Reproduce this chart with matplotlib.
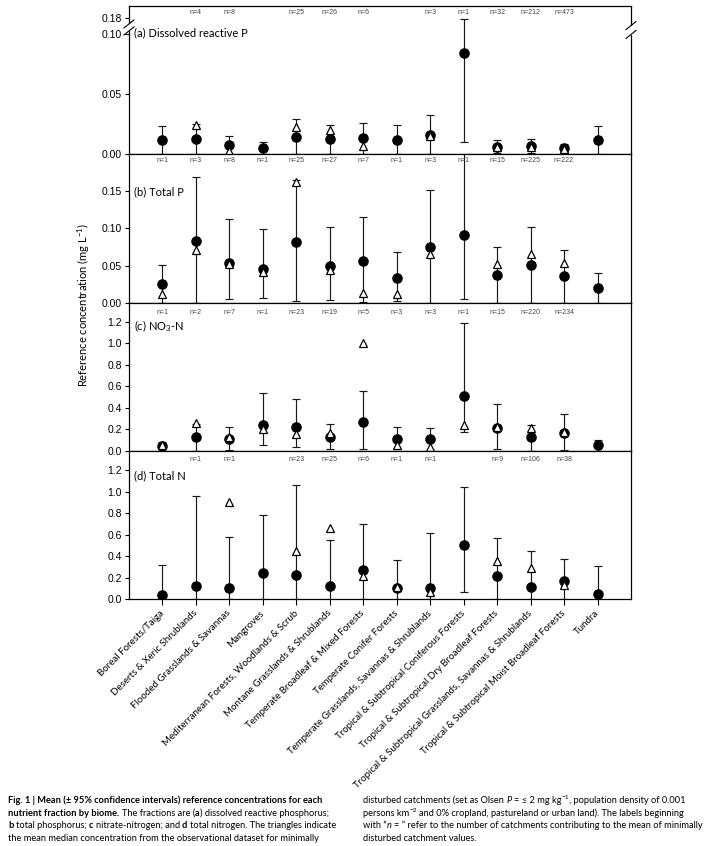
import re
import numpy as np
import matplotlib
matplotlib.use("Agg")
import matplotlib.pyplot as plt
from matplotlib.font_manager import FontProperties

plt.rcParams["mathtext.fontset"] = "custom"
plt.rcParams["mathtext.rm"] = "Lato"
plt.rcParams["mathtext.it"] = "Lato:italic"
plt.rcParams["mathtext.bf"] = "Lato:bold"

nan = np.nan

biomes = ["Boreal Forests/Taiga", "Deserts & Xeric Shrublands", "Flooded Grasslands & Savannas",
          "Mangroves", "Mediterranean Forests, Woodlands & Scrub", "Montane Grasslands & Shrublands",
          "Temperate Broadleaf & Mixed Forests", "Temperate Conifer Forests",
          "Temperate Grasslands, Savannas & Shrublands", "Tropical & Subtropical Coniferous Forests",
          "Tropical & Subtropical Dry Broadleaf Forests",
          "Tropical & Subtropical Grasslands, Savannas & Shrublands",
          "Tropical & Subtropical Moist Broadleaf Forests", "Tundra"]

# (a) Dissolved reactive P
drp_mean = [0.012, 0.013, 0.0075, 0.005, 0.0147, 0.0125, 0.0133, 0.012, 0.016, 0.0847, 0.0058, 0.007, 0.005, 0.012]
drp_low = [0, 0, 0, 0, 0, 0, 0, 0, 0, 0.0106, 0.001, 0.001, 0.002, 0]
drp_up = [0.0233, 0.0255, 0.0153, 0.0106, 0.0297, 0.0244, 0.026, 0.0244, 0.0325, 0.177, 0.012, 0.0128, 0.0089, 0.0236]
drp_tri = [nan, 0.0244, 0.003, nan, 0.023, 0.020, 0.0067, nan, 0.0155, nan, 0.006, 0.0065, 0.0048, nan]
drp_n = ["", "n=4", "n=8", "", "n=25", "n=26", "n=6", "", "n=3", "n=1", "n=32", "n=212", "n=473", ""]

# (b) Total P
tp_mean = [0.0252, 0.0838, 0.0536, 0.046, 0.0815, 0.0495, 0.0563, 0.0333, 0.0748, 0.0914, 0.037, 0.0505, 0.0356, 0.0194]
tp_low = [0, 0, 0.0045, 0.0068, 0.002, 0.003, 0.0014, 0.002, 0, 0.005, 0, 0, 0, 0]
tp_up = [0.0509, 0.169, 0.1126, 0.0995, 0.1658, 0.1023, 0.1153, 0.0689, 0.152, 0.215, 0.0752, 0.1018, 0.0716, 0.0396]
tp_tri = [0.0113, 0.0712, 0.0527, 0.041, 0.1626, 0.044, 0.0135, 0.0113, 0.0658, nan, 0.052, 0.0653, 0.054, nan]
tp_n = ["n=1", "n=3", "n=8", "n=1", "n=25", "n=27", "n=7", "n=1", "n=3", "n=1", "n=15", "n=225", "n=222", ""]

# (c) NO3-N
no3_mean = [0.047, 0.13, 0.115, 0.245, 0.226, 0.13, 0.273, 0.11, 0.108, 0.509, 0.217, 0.127, 0.171, 0.056]
no3_low = [0, 0, 0.01, 0.056, 0.034, 0.015, 0.015, 0.018, 0, 0.18, 0.022, 0, 0.01, 0]
no3_up = [0.084, 0.25, 0.226, 0.536, 0.48, 0.254, 0.561, 0.223, 0.214, 1.188, 0.44, 0.242, 0.341, 0.102]
no3_tri = [0.056, 0.264, 0.13, 0.208, 0.161, 0.17, 1.008, 0.056, 0.037, 0.239, 0.223, 0.214, 0.177, nan]
no3_n = ["n=1", "n=2", "n=7", "n=1", "n=23", "n=19", "n=5", "n=3", "n=3", "n=1", "n=15", "n=220", "n=234", ""]

# (d) Total N
tn_mean = [0.044, 0.128, 0.109, 0.243, 0.224, 0.121, 0.274, 0.106, 0.106, 0.508, 0.215, 0.118, 0.174, 0.053]
tn_low = [0, 0, 0, 0, 0, 0, 0, 0, 0, 0.069, 0, 0, 0, 0]
tn_up = [0.315, 0.96, 0.576, 0.788, 1.065, 0.555, 0.70, 0.368, 0.617, 1.044, 0.573, 0.445, 0.374, 0.31]
tn_tri = [nan, nan, 0.906, nan, 0.449, 0.66, 0.215, 0.118, 0.072, nan, 0.352, 0.293, 0.137, nan]
tn_n = ["", "n=1", "n=1", "", "n=23", "n=25", "n=6", "n=1", "n=1", "", "n=9", "n=106", "n=38", ""]

panels = [
    ("(a) Dissolved reactive P", drp_mean, drp_low, drp_up, drp_tri, drp_n,
     [0, 0.05, 0.10, 0.18], ["0.00", "0.05", "0.10", "0.18"], 0.242, 0.82, 0.955),
    ("(b) Total P", tp_mean, tp_low, tp_up, tp_tri, tp_n,
     [0, 0.05, 0.10, 0.15], ["0.00", "0.05", "0.10", "0.15"], 0.20, 0.75, 0.955),
    ("(c) NO$_3$-N", no3_mean, no3_low, no3_up, no3_tri, no3_n,
     [0, 0.2, 0.4, 0.6, 0.8, 1.0, 1.2], ["0.0", "0.2", "0.4", "0.6", "0.8", "1.0", "1.2"], 1.38, 0.84, 0.935),
    ("(d) Total N", tn_mean, tn_low, tn_up, tn_tri, tn_n,
     [0, 0.2, 0.4, 0.6, 0.8, 1.0, 1.2], ["0.0", "0.2", "0.4", "0.6", "0.8", "1.0", "1.2"], 1.38, 0.83, 0.94),
]

W, H, DPI = 706, 846, 100
fig = plt.figure(figsize=(W / DPI, H / DPI), dpi=DPI)

left_px, right_px = 129, 631
top_px, bottom_px = 6, 599.3
ph = (bottom_px - top_px) / 4
x = np.arange(1, len(biomes) + 1)

def fwd(v):
    v = np.asarray(v, dtype=float)
    return np.where(v <= 0.1, v, 0.1 + (v - 0.1) / 6.0)

def inv(t):
    t = np.asarray(t, dtype=float)
    return np.where(t <= 0.1, t, 0.1 + (t - 0.1) * 6.0)

axes = []
for i, (title, mean, low, up, tri, nlab, yt, ytl, ytop, ty, ny) in enumerate(panels):
    y0 = top_px + i * ph
    ax = fig.add_axes([left_px / W, 1 - (y0 + ph) / H, (right_px - left_px) / W, ph / H])
    axes.append(ax)
    if i == 0:
        ax.set_yscale("function", functions=(fwd, inv))
    mean = np.array(mean); low = np.array(low); up = np.array(up)
    ax.errorbar(x, mean, yerr=[mean - low, up - mean], fmt="none", ecolor="#1a1a1a",
                elinewidth=0.85, capsize=3, capthick=0.85, zorder=2)
    ax.plot(x, mean, "o", ms=6.6, color="black", zorder=3)
    ax.plot(x, tri, "^", ms=5.8, mfc="white", mec="black", mew=0.9, zorder=4)
    ax.set_xlim(0, len(biomes) + 1)
    ax.set_ylim(0, ytop)
    ax.set_yticks(yt)
    ax.set_yticklabels(ytl, family="Liberation Sans", fontsize=7.5)
    ax.tick_params(axis="y", direction="out", length=3, width=0.8, pad=2)
    for s in ax.spines.values():
        s.set_linewidth(0.9)
    ax.text(0.01, ty, title, transform=ax.transAxes, fontsize=8, family="Lato", va="center", ha="left")
    for xi, lab in zip(x, nlab):
        if lab:
            ax.text(xi, ny, lab, transform=ax.get_xaxis_transform(), fontsize=5, color="#444444",
                    family="Liberation Sans", ha="center", va="center")
    if i < 3:
        ax.set_xticks([])
    else:
        ax.set_xticks(x)
        ax.set_xticklabels(biomes, rotation=45, ha="right", va="center", rotation_mode="anchor",
                           family="Lato", fontsize=7)
        ax.tick_params(axis="x", direction="out", length=4, width=0.8, pad=5)

# broken-axis marks on panel (a)
ax = axes[0]
aw = right_px - left_px
for xs, ys in [(0.0, (0.879, 0.832)), (1.0, (0.868, 0.808))]:
    ax.plot([xs, xs], [ys[1] + 0.01, ys[0] - 0.01], color="white", lw=2.5, transform=ax.transAxes,
            clip_on=False, zorder=5)
    for yy in ys:
        ax.plot([xs - 5 / aw, xs + 5 / aw], [yy - 4 / ph, yy + 4 / ph], color="black", lw=0.8,
                transform=ax.transAxes, clip_on=False, zorder=6)

fig.text(84 / W, 1 - 305 / H, "Reference concentration (mg L$^{-1}$)", rotation=90, family="Lato",
         fontsize=8, ha="center", va="center")

# caption
renderer = fig.canvas.get_renderer()
styles = {"n": {}, "b": {"weight": "bold"}, "i": {"style": "italic"}, "s": {}}

def parse(line):
    parts = re.split(r"(\*\*.*?\*\*|__.*?__|\^\{.*?\})", line)
    out = []
    for p in parts:
        if not p:
            continue
        if p.startswith("**"):
            out.append((p[2:-2], "b"))
        elif p.startswith("__"):
            out.append((p[2:-2], "i"))
        elif p.startswith("^{"):
            out.append((p[2:-1], "s"))
        else:
            out.append((p, "n"))
    return out

def width(txt, fp):
    return renderer.get_text_width_height_descent(txt, fp, False)[0]

def walk(x_px, base_px, line, size, draw):
    cur = x_px
    for txt, st in parse(line):
        fs = size * 0.7 if st == "s" else size
        fp = FontProperties(family="Lato", size=fs, **styles[st])
        sp = width("| |", fp) - width("||", fp)
        lead = len(txt) - len(txt.lstrip(" "))
        trail = len(txt) - len(txt.rstrip(" "))
        core = txt.strip(" ")
        cur += lead * sp
        yb = base_px - (size * 0.42 * DPI / 72 if st == "s" else 0)
        if core:
            if draw:
                fig.text(cur / W, 1 - yb / H, core, fontproperties=fp, ha="left", va="baseline")
            cur += width(core, fp)
        cur += trail * sp
    return cur - x_px

left_lines = [
    "**Fig. 1 | Mean (± 95% confidence intervals) reference concentrations for each**",
    "**nutrient fraction by biome.** The fractions are (**a**) dissolved reactive phosphorus;",
    "**b** total phosphorus; **c** nitrate-nitrogen; and **d** total nitrogen. The triangles indicate",
    "the mean median concentration from the observational dataset for minimally",
]
left_targets = [322, 346, 342, 312]
right_lines = [
    "disturbed catchments (set as Olsen __P__ = ≤ 2 mg kg^{−1}, population density of 0.001",
    "persons km^{−2} and 0% cropland, pastureland or urban land). The labels beginning",
    "with “__n__ = ” refer to the number of catchments contributing to the mean of minimally",
    "disturbed catchment values.",
]
right_targets = [328, 335, 340, 115]

def fit(lines, targets):
    return min(7.0 * t / walk(0, 0, ln, 7.0, False) for ln, t in zip(lines, targets))

size_left = fit(left_lines, left_targets)
size_right = min(fit(right_lines, right_targets), size_left)
bases = [803, 815.5, 828, 840.5]
for ln, b in zip(left_lines, bases):
    walk(8, b, ln, size_left, True)
for ln, b in zip(right_lines, bases):
    walk(363, b, ln, size_right, True)

fig.savefig("out.png", dpi=DPI)
